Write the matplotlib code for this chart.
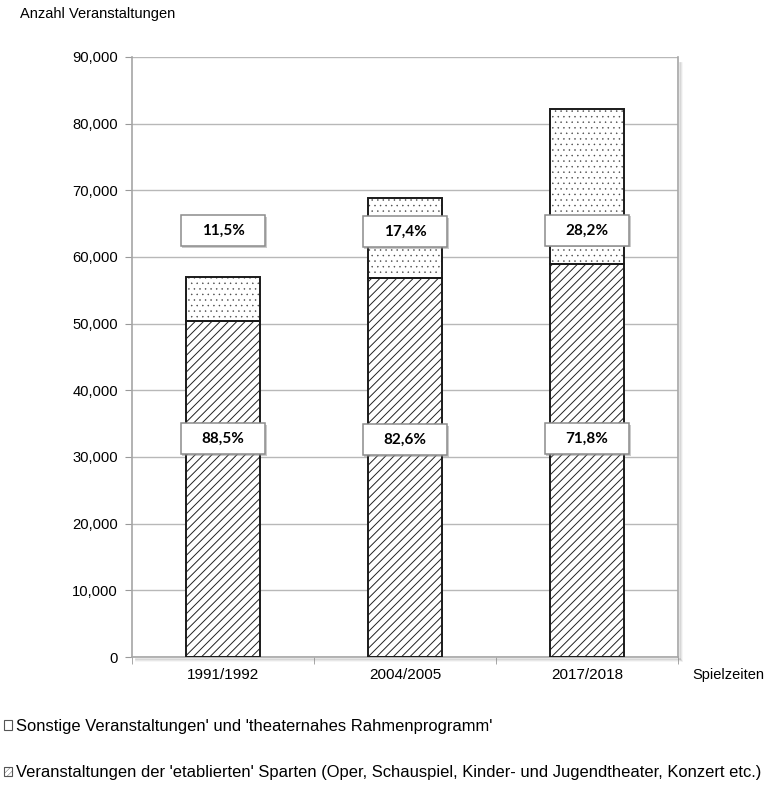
import matplotlib
matplotlib.use("Agg")
import matplotlib.pyplot as plt
import matplotlib.patheffects as pe
from matplotlib.patches import Rectangle, Patch
from matplotlib.ticker import FuncFormatter, MultipleLocator, FixedLocator
import numpy as np

plt.rcParams["font.family"] = ["Liberation Sans", "DejaVu Sans"]

seasons = ["1991/1992", "2004/2005", "2017/2018"]
established = [50450, 56830, 58980]
other = [6550, 11970, 23170]
label_y_established = [32750, 32600, 32700]
label_y_other = [63900, 63750, 64000]

legend_labels = [
    "Sonstige Veranstaltungen' und 'theaternahes Rahmenprogramm'",
    "Veranstaltungen der 'etablierten' Sparten (Oper, Schauspiel, Kinder- und Jugendtheater, Konzert etc.)",
]

fig = plt.figure(figsize=(7.65, 7.89), dpi=100)
ax = fig.add_axes([132 / 765, 0.1673, 546 / 765, 0.7605])

x = np.arange(len(seasons))
totals = np.array(established) + np.array(other)
w = 0.41

# hatched fills first, then plain outlines on top
plt.rcParams["hatch.linewidth"] = 0.7
ax.bar(x, established, w, color="white", edgecolor="#222222", hatch="////",
       linewidth=0, zorder=3)
plt.rcParams["hatch.linewidth"] = 0.3
ax.bar(x, other, w, bottom=established, color="white", edgecolor="#444444",
       hatch="...", linewidth=0, zorder=3)
ax.bar(x, established, w, fill=False, edgecolor="#1a1a1a", linewidth=1.4, zorder=4)
ax.bar(x, other, w, bottom=established, fill=False, edgecolor="#1a1a1a",
       linewidth=1.4, zorder=4)

ax.set_xlim(-0.5, len(seasons) - 0.5)
ax.set_ylim(0, 90000)
ax.yaxis.set_major_locator(MultipleLocator(10000))
ax.yaxis.set_major_formatter(FuncFormatter(lambda v, p: f"{int(v):,}"))
ax.grid(axis="y", color="#b8b8b8", linewidth=1, zorder=0)
ax.set_axisbelow(True)

ax.set_xticks(x)
ax.set_xticklabels(seasons)
ax.xaxis.set_minor_locator(FixedLocator([-0.5, 0.5, 1.5, 2.5]))
ax.tick_params(axis="x", which="major", length=0, pad=8, labelsize=11)
ax.tick_params(axis="x", which="minor", length=5, color="#999999")
ax.tick_params(axis="y", length=5, color="#999999", labelsize=10.6, pad=5)

for side in ["left", "bottom", "right"]:
    ax.spines[side].set_color("#a6a6a6")
    ax.spines[side].set_linewidth(1.2)
ax.spines["top"].set_visible(False)

# soft shadow along right and bottom of the plot area
x1 = 678 / 765
y0 = 0.1673
for i, a in enumerate([0.25, 0.15, 0.08]):
    off = i + 1.5
    fig.add_artist(plt.Line2D([x1 + off / 765, x1 + off / 765],
                              [y0 - off / 789, 0.92],
                              color="gray", alpha=a, lw=1.2))
    fig.add_artist(plt.Line2D([136 / 765, x1 + off / 765],
                              [y0 - off / 789, y0 - off / 789],
                              color="gray", alpha=a, lw=1.2))

# percentage boxes
box_w, box_h = 0.467, 4650
shadow = [pe.withSimplePatchShadow(offset=(1.2, -1.2), shadow_rgbFace="0.55", alpha=0.45)]
for i in range(len(seasons)):
    for val, yc in [(established[i], label_y_established[i]), (other[i], label_y_other[i])]:
        pct = val / totals[i] * 100
        r = Rectangle((x[i] - box_w / 2, yc - box_h / 2), box_w, box_h,
                      facecolor="white", edgecolor="#8c8c8c", linewidth=1.1,
                      zorder=5, path_effects=shadow)
        ax.add_patch(r)
        ax.text(x[i], yc, f"{pct:.1f}%".replace(".", ","), ha="center", va="center",
                fontsize=11, fontweight="bold", family="Lato", zorder=6)

fig.text(20 / 765, 1 - 14 / 789, "Anzahl Veranstaltungen", fontsize=10.5,
         va="center", ha="left")
fig.text(692 / 765, 1 - 675 / 789, "Spielzeiten", fontsize=10.5, va="center", ha="left")

h_other = Patch(facecolor="white", edgecolor="#555555", linewidth=0.8)
h_est = Patch(facecolor="white", edgecolor="#555555", hatch="//////", linewidth=0.8)
fig.legend([h_other, h_est], legend_labels, loc="upper left",
           bbox_to_anchor=(4 / 765, 1 - 719 / 789), frameon=False, fontsize=11.9,
           handlelength=0.5, handleheight=0.5, handletextpad=0.25,
           labelspacing=1.9, borderaxespad=0, borderpad=0)

fig.savefig("out.png", dpi=100)
